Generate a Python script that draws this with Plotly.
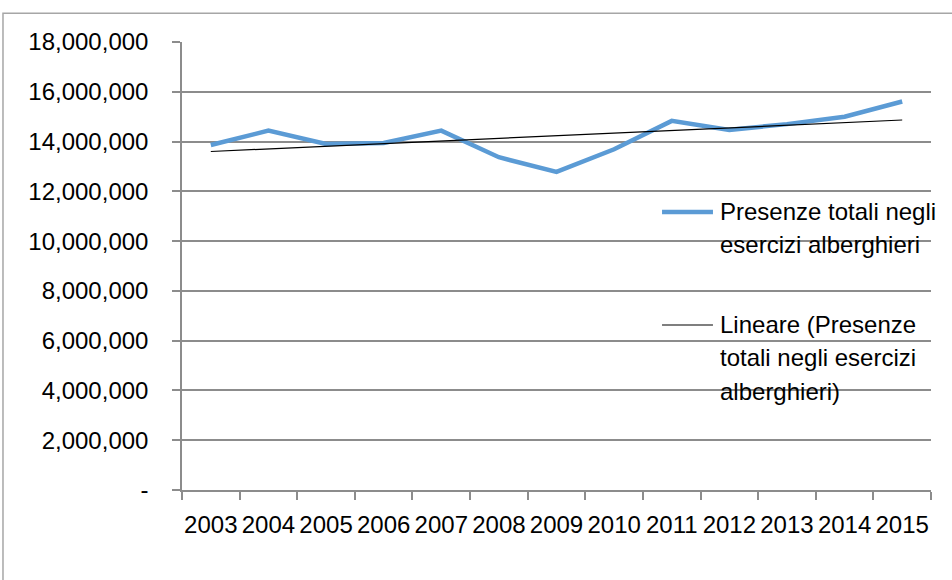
import numpy as np
import plotly.graph_objects as go

# Overnight stays in hotel establishments, 2003-2015
years = ["2003", "2004", "2005", "2006", "2007", "2008", "2009",
         "2010", "2011", "2012", "2013", "2014", "2015"]
presenze = [13860000, 14440000, 13900000, 13940000, 14440000, 13370000, 12780000,
            13690000, 14830000, 14470000, 14700000, 15000000, 15610000]

y_tick_vals = [0, 2000000, 4000000, 6000000, 8000000, 10000000,
               12000000, 14000000, 16000000, 18000000]
y_tick_text = ["-", "2,000,000", "4,000,000", "6,000,000", "8,000,000", "10,000,000",
               "12,000,000", "14,000,000", "16,000,000", "18,000,000"]

series_name = "Presenze totali negli esercizi alberghieri"
trend_name = "Lineare (Presenze totali negli esercizi alberghieri)"

# Least-squares linear trend over the series
idx = np.arange(len(presenze))
slope, intercept = np.polyfit(idx, presenze, 1)
trend = slope * idx + intercept

FONT = "Liberation Sans"
FS = 24
BLUE = "#5B9BD5"
GRID = "#8C8C8C"

fig = go.Figure()
fig.add_trace(go.Scatter(x=years, y=presenze, mode="lines", name=series_name,
                         line=dict(color=BLUE, width=4.5)))
fig.add_trace(go.Scatter(x=years, y=trend, mode="lines", name=trend_name,
                         line=dict(color="black", width=1.2)))

fig.update_layout(
    width=952, height=580,
    margin=dict(l=182, r=21, t=42, b=90),
    paper_bgcolor="white", plot_bgcolor="white",
    showlegend=False,
    font=dict(family=FONT, size=FS, color="black"),
)

fig.update_xaxes(
    type="category", range=[-0.5, 12.5], automargin=False, tickangle=0,
    showgrid=False, showline=True, linecolor=GRID, linewidth=1.5,
    ticks="outside", tickson="boundaries", ticklen=8, tickcolor=GRID, tickwidth=1.5,
    tickfont=dict(family=FONT, size=FS), ticklabelstandoff=12,
)
fig.update_yaxes(
    range=[0, 18000000], tickvals=y_tick_vals, ticktext=y_tick_text, automargin=False,
    showgrid=True, gridcolor=GRID, gridwidth=1.5,
    showline=True, linecolor=GRID, linewidth=1.5,
    ticks="outside", ticklen=8, tickcolor=GRID, tickwidth=1.5,
    tickfont=dict(family=FONT, size=FS), ticklabelstandoff=19,
    zeroline=False,
)

# Chart-area border (runs past the right and bottom edges of the page)
fig.add_shape(type="rect", xref="paper", yref="paper",
              x0=-0.239, x1=1.05, y0=-0.21, y1=1.064,
              line=dict(color="#A6A6A6", width=1.5), fillcolor="rgba(0,0,0,0)", layer="below")

# Legend: sample lines and wrapped labels
fig.add_shape(type="line", xref="paper", yref="paper",
              x0=0.6409, x1=0.7089, y0=0.6205, y1=0.6205,
              line=dict(color=BLUE, width=4.5))
fig.add_shape(type="line", xref="paper", yref="paper",
              x0=0.6409, x1=0.7089, y0=0.3683, y1=0.3683,
              line=dict(color="black", width=1.2))

legend_lines = [
    ("Presenze totali negli", 0.6225),
    ("esercizi alberghieri", 0.5489),
    ("Lineare (Presenze", 0.3703),
    ("totali negli esercizi", 0.2966),
    ("alberghieri)", 0.2208),
]
for text, ypos in legend_lines:
    fig.add_annotation(text=text, xref="paper", yref="paper", x=0.7156, y=ypos,
                       xanchor="left", yanchor="middle", showarrow=False,
                       font=dict(family=FONT, size=FS, color="black"),
                       bgcolor="rgba(0,0,0,0)")

fig.write_html("out.html")
